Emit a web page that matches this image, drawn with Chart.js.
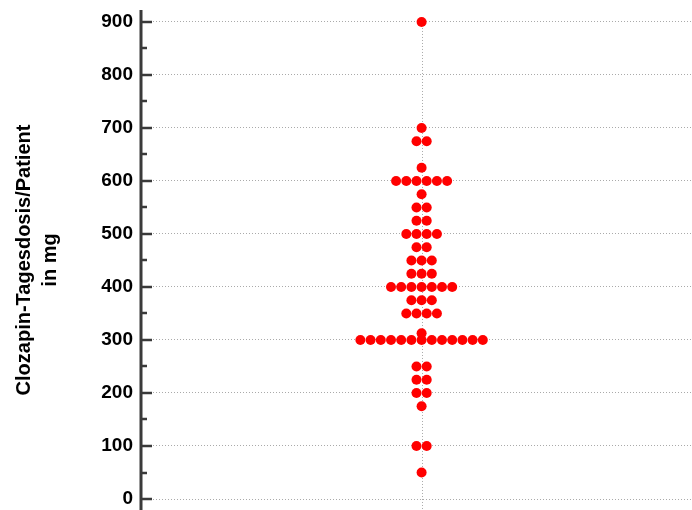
<!DOCTYPE html>
<html>
<head>
<meta charset="utf-8">
<script src="https://cdn.jsdelivr.net/npm/chart.js@4/dist/chart.umd.min.js"></script>
<style>
  html, body { margin: 0; padding: 0; background: #fff; }
  #wrap { width: 692px; height: 510px; }
</style>
</head>
<body>
<div id="wrap"><canvas id="dose" width="692" height="510"></canvas></div>
<script>
// Daily clozapine dose per patient (mg) and how many patients received each dose
const doseLevels    = [900, 700, 675, 625, 600, 575, 550, 525, 500, 475, 450, 425, 400, 375, 350, 312.5, 300, 250, 225, 200, 175, 100, 50];
const patientCounts = [  1,   1,   2,   1,   6,   1,   2,   2,   4,   2,   3,   3,   7,   3,   4,     1,  13,   2,   2,   2,   1,   2,  1];

// Y axis ticks: labelled every 100 mg, minor marks every 50 mg
const majorTicks = [0, 100, 200, 300, 400, 500, 600, 700, 800, 900];
const minorTicks = [50, 150, 250, 350, 450, 550, 650, 750, 850];

const yTitle = ['Clozapin-Tagesdosis/Patient', 'in mg'];

// Dot-plot layout: patients sharing a dose are spread side by side around x = 0
const points = [];
doseLevels.forEach((dose, i) => {
  const n = patientCounts[i];
  for (let k = 0; k < n; k++) {
    points.push({ x: k - (n - 1) / 2, y: dose });
  }
});

const FONT = '"Liberation Sans", Arial, Helvetica, sans-serif';
const AXIS_COLOR = '#3a3a3a';
const GRID_COLOR = '#aaaaaa';

// Inward tick marks on the y axis and the dotted centre line
const axisDecor = {
  id: 'axisDecor',
  beforeDatasetsDraw(chart) {
    const { ctx, scales: { x, y }, chartArea } = chart;
    const cx = Math.round(x.getPixelForValue(0)) + 0.5;
    ctx.save();
    ctx.strokeStyle = GRID_COLOR;
    ctx.lineWidth = 1;
    ctx.setLineDash([1, 2]);
    ctx.beginPath();
    ctx.moveTo(cx, y.getPixelForValue(majorTicks[majorTicks.length - 1]));
    ctx.lineTo(cx, chartArea.bottom);
    ctx.stroke();
    ctx.restore();
  },
  afterDraw(chart) {
    const { ctx, scales: { y }, chartArea } = chart;
    const left = chartArea.left;
    ctx.save();
    ctx.strokeStyle = AXIS_COLOR;
    ctx.lineWidth = 2.5;
    ctx.setLineDash([]);
    const mark = (v, len) => {
      const py = Math.round(y.getPixelForValue(v));
      ctx.beginPath();
      ctx.moveTo(left, py);
      ctx.lineTo(left + len, py);
      ctx.stroke();
    };
    majorTicks.forEach(v => mark(v, 11));
    minorTicks.forEach(v => mark(v, 6));
    // solid axis line
    ctx.lineWidth = 3;
    ctx.beginPath();
    ctx.moveTo(left, chartArea.top);
    ctx.lineTo(left, chartArea.bottom);
    ctx.stroke();
    ctx.restore();
  }
};

new Chart(document.getElementById('dose'), {
  type: 'scatter',
  data: {
    datasets: [{
      data: points,
      pointRadius: 5,
      pointHoverRadius: 5,
      pointBackgroundColor: '#ff0000',
      pointBorderWidth: 0
    }]
  },
  options: {
    responsive: false,
    animation: false,
    events: [],
    layout: { autoPadding: false, padding: { top: 10, left: 0, right: 0, bottom: 0 } },
    plugins: { legend: { display: false }, tooltip: { enabled: false } },
    scales: {
      x: {
        type: 'linear',
        display: false,
        min: -27.5,
        max: 26.5
      },
      y: {
        type: 'linear',
        min: -20.75,
        max: 922.6,
        afterBuildTicks(scale) {
          scale.ticks = majorTicks.concat(minorTicks).sort((a, b) => a - b).map(v => ({ value: v }));
        },
        afterFit(scale) {
          scale.width = 141;
          scale.paddingTop = 0;
          scale.paddingBottom = 0;
          scale.paddingLeft = 0;
          scale.paddingRight = 0;
        },
        border: { display: false, dash: [1, 2] },
        grid: {
          drawTicks: false,
          lineWidth: 1,
          color: c => (c.tick && c.tick.value % 100 === 0 && c.tick.value >= 0) ? GRID_COLOR : 'rgba(0,0,0,0)'
        },
        ticks: {
          autoSkip: false,
          padding: 8,
          color: '#000',
          font: { family: FONT, size: 19, weight: 'bold' },
          callback: v => (v % 100 === 0 ? String(v) : '')
        },
        title: {
          display: true,
          text: yTitle,
          color: '#000',
          font: { family: FONT, size: 20, weight: 'bold', lineHeight: 1.3 },
          padding: { top: 11, bottom: 0 }
        }
      }
    }
  },
  plugins: [axisDecor]
});
</script>
</body>
</html>
